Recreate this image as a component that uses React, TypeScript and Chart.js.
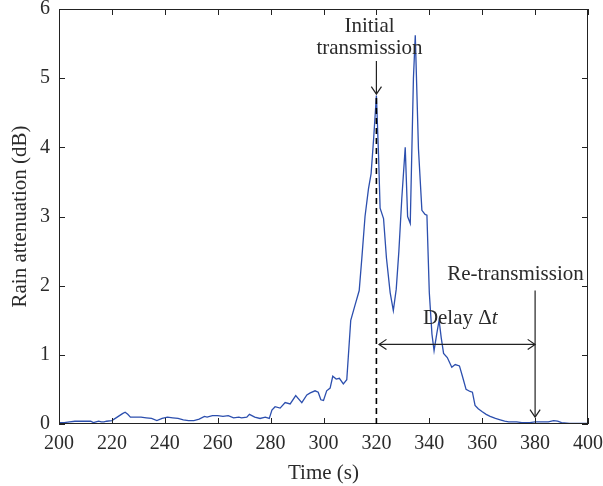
import React, { useEffect, useRef } from "react";
import { Chart, registerables } from "chart.js";

Chart.register(...registerables);

const times = [
  200, 202, 204, 206, 208, 210, 212, 213, 214, 215, 216, 217, 218, 220, 222, 224, 225, 226, 227, 229,
  231, 233, 235, 237, 239, 241, 243, 245, 247, 249, 251, 253, 255, 256, 258, 260, 262, 264, 266, 268,
  269, 271, 272, 274, 276, 278, 279.5, 280.5, 281.7, 283.6, 285.5, 287.4, 289.5, 291.8, 293.7, 295, 296.8,
  298, 299, 300, 301.2, 302.5, 303.5, 304.8, 306, 307.5, 308.8, 310.3, 312, 313.5, 314.5, 315.7, 317,
  318, 319, 320, 320.8, 321.4, 322.7, 323.8, 325.2, 326.4, 327.5, 328.5, 329.6, 330.9, 331.8, 332.8,
  334, 334.7, 335.9, 337.2, 338.4, 339.1, 340, 341, 341.8, 342.8, 343.7, 344.5, 345.4, 346.8, 348.5,
  349.8, 351.4, 352.6, 353.9, 355.4, 356.3, 357.3, 358.5, 359.9, 361.5, 363, 365, 366.8, 368.5, 370,
  373, 375, 378, 380, 382, 385, 387, 388.5, 390, 393, 396, 400,
];

const attenuation = [
  0.02, 0.02, 0.03, 0.04, 0.04, 0.04, 0.04, 0.02, 0.03, 0.04, 0.03, 0.03, 0.04, 0.05, 0.1, 0.15, 0.17, 0.14, 0.1, 0.1,
  0.1, 0.09, 0.08, 0.05, 0.08, 0.1, 0.09, 0.08, 0.06, 0.05, 0.05, 0.07, 0.11, 0.1, 0.12, 0.12, 0.11, 0.12, 0.09, 0.1,
  0.09, 0.1, 0.14, 0.1, 0.08, 0.1, 0.08, 0.2, 0.25, 0.23, 0.31, 0.29, 0.41, 0.31, 0.42, 0.45, 0.48,
  0.46, 0.35, 0.34, 0.48, 0.52, 0.69, 0.65, 0.66, 0.58, 0.64, 1.5, 1.73, 1.93, 2.4, 3.0, 3.4,
  3.62, 4.15, 4.75, 3.9, 3.12, 2.97, 2.4, 1.9, 1.64, 1.95, 2.5, 3.26, 4.0, 3.0, 2.9,
  5.0, 5.62, 3.98, 3.09, 3.03, 3.02, 1.9, 1.3, 1.06, 1.3, 1.5, 1.25, 1.02, 0.96, 0.82,
  0.86, 0.84, 0.68, 0.5, 0.47, 0.46, 0.27, 0.22, 0.18, 0.14, 0.11, 0.08, 0.06, 0.04, 0.03,
  0.03, 0.02, 0.02, 0.03, 0.03, 0.03, 0.05, 0.04, 0.02, 0.01, 0.01, 0.01,
];

const xTickStep = 20;
const yTickStep = 1;
const xRange = [200, 400];
const yRange = [0, 6];

const xTitle = "Time (s)";
const yTitle = "Rain attenuation (dB)";

// annotations (data units)
const initialTime = 320;
const initialDashTop = 4.72;
const initialArrow = [5.25, 4.77];
const initialLabels = ["Initial", "transmission"];
const initialLabelX = 317.4;
const initialLabelY = [5.74, 5.43];
const retransTime = 380;
const retransArrow = [1.93, 0.1];
const retransLabel = "Re-transmission";
const retransLabelPos = [372.6, 2.16];
const delayRange = [321, 380];
const delayY = 1.15;
const delayLabelPos = [351.7, 1.53];

const FONT = "'Liberation Serif', 'Times New Roman', serif";
const TEXT = "#2b2b2b";
const ANN_SIZE = 21;

function arrowHead(ctx: CanvasRenderingContext2D, x: number, y: number, ang: number) {
  const L = 9;
  const spread = 0.6;
  ctx.beginPath();
  ctx.moveTo(x - L * Math.cos(ang - spread), y - L * Math.sin(ang - spread));
  ctx.lineTo(x, y);
  ctx.lineTo(x - L * Math.cos(ang + spread), y - L * Math.sin(ang + spread));
  ctx.stroke();
}

const framePlugin = {
  id: "frame",
  afterDatasetsDraw(chart: any) {
    const { ctx, chartArea: a, scales } = chart;
    const xs = scales.x;
    const ys = scales.y;
    ctx.save();
    ctx.strokeStyle = "#222";
    ctx.lineWidth = 1;
    ctx.strokeRect(a.left + 0.5, a.top + 0.5, a.right - a.left - 1, a.bottom - a.top - 1);
    const tl = 6;
    ctx.beginPath();
    xs.ticks.forEach((t: any) => {
      const px = Math.round(xs.getPixelForValue(t.value)) + 0.5;
      ctx.moveTo(px, a.bottom);
      ctx.lineTo(px, a.bottom - tl);
      ctx.moveTo(px, a.top);
      ctx.lineTo(px, a.top + tl);
    });
    ys.ticks.forEach((t: any) => {
      const py = Math.round(ys.getPixelForValue(t.value)) + 0.5;
      ctx.moveTo(a.left, py);
      ctx.lineTo(a.left + tl, py);
      ctx.moveTo(a.right, py);
      ctx.lineTo(a.right - tl, py);
    });
    ctx.stroke();

    // dashed line
    ctx.strokeStyle = "#000";
    ctx.lineWidth = 1.6;
    ctx.setLineDash([6, 4]);
    const dx = xs.getPixelForValue(initialTime);
    ctx.beginPath();
    ctx.moveTo(dx, ys.getPixelForValue(0));
    ctx.lineTo(dx, ys.getPixelForValue(initialDashTop));
    ctx.stroke();
    ctx.setLineDash([]);

    // arrows
    ctx.lineWidth = 1.2;
    ctx.strokeStyle = "#222";
    const a1t = ys.getPixelForValue(initialArrow[0]);
    const a1b = ys.getPixelForValue(initialArrow[1]);
    ctx.beginPath();
    ctx.moveTo(dx, a1t);
    ctx.lineTo(dx, a1b);
    ctx.stroke();
    arrowHead(ctx, dx, a1b, Math.PI / 2);

    const rx = xs.getPixelForValue(retransTime);
    const r1 = ys.getPixelForValue(retransArrow[0]);
    const r2 = ys.getPixelForValue(retransArrow[1]);
    ctx.beginPath();
    ctx.moveTo(rx, r1);
    ctx.lineTo(rx, r2);
    ctx.stroke();
    arrowHead(ctx, rx, r2, Math.PI / 2);

    const d1 = xs.getPixelForValue(delayRange[0]);
    const d2 = xs.getPixelForValue(delayRange[1]);
    const dy = ys.getPixelForValue(delayY);
    ctx.beginPath();
    ctx.moveTo(d1, dy);
    ctx.lineTo(d2, dy);
    ctx.stroke();
    arrowHead(ctx, d1, dy, Math.PI);
    arrowHead(ctx, d2, dy, 0);

    // texts
    ctx.fillStyle = TEXT;
    ctx.textAlign = "center";
    ctx.textBaseline = "middle";
    ctx.font = `${ANN_SIZE}px ${FONT}`;
    initialLabels.forEach((s, i) => {
      ctx.fillText(s, xs.getPixelForValue(initialLabelX), ys.getPixelForValue(initialLabelY[i]));
    });
    ctx.fillText(retransLabel, xs.getPixelForValue(retransLabelPos[0]), ys.getPixelForValue(retransLabelPos[1]));

    const part1 = "Delay \u0394";
    const part2 = "t";
    ctx.font = `${ANN_SIZE}px ${FONT}`;
    const w1 = ctx.measureText(part1).width;
    ctx.font = `italic ${ANN_SIZE}px ${FONT}`;
    const w2 = ctx.measureText(part2).width;
    const cx = xs.getPixelForValue(delayLabelPos[0]);
    const cy = ys.getPixelForValue(delayLabelPos[1]);
    const start = cx - (w1 + w2) / 2;
    ctx.textAlign = "left";
    ctx.font = `${ANN_SIZE}px ${FONT}`;
    ctx.fillText(part1, start, cy);
    ctx.font = `italic ${ANN_SIZE}px ${FONT}`;
    ctx.fillText(part2, start + w1, cy);
    ctx.restore();
  },
};

export default function App() {
  const ref = useRef<HTMLCanvasElement | null>(null);
  useEffect(() => {
    document.body.style.margin = "0";
    const c = ref.current;
    if (!c) return;
    const chart = new Chart(c, {
      type: "line",
      data: {
        datasets: [
          {
            data: times.map((t, i) => ({ x: t, y: attenuation[i] })),
            borderColor: "#2c4fae",
            borderWidth: 1.3,
            pointRadius: 0,
            tension: 0,
            fill: false,
          },
        ],
      },
      options: {
        animation: false,
        responsive: false,
        devicePixelRatio: 1,
        layout: { padding: { top: 9, right: 15, left: 0, bottom: 0 } },
        plugins: { legend: { display: false }, tooltip: { enabled: false } },
        scales: {
          x: {
            type: "linear",
            min: xRange[0],
            max: xRange[1],
            afterFit: (s: any) => {
              s.height = 62;
              s.paddingLeft = 0;
              s.paddingRight = 0;
            },
            ticks: { stepSize: xTickStep, color: TEXT, font: { family: FONT, size: 20 }, padding: 8, maxRotation: 0 },
            grid: { display: false, drawTicks: false },
            border: { display: false },
            title: { display: true, text: xTitle, color: TEXT, font: { family: FONT, size: 21 }, padding: { top: 4, bottom: 0 } },
          },
          y: {
            type: "linear",
            min: yRange[0],
            max: yRange[1],
            afterFit: (s: any) => {
              s.width = 59;
              s.paddingTop = 0;
              s.paddingBottom = 0;
            },
            ticks: { stepSize: yTickStep, color: TEXT, font: { family: FONT, size: 20 }, padding: 9 },
            grid: { display: false, drawTicks: false },
            border: { display: false },
            title: { display: true, text: yTitle, color: TEXT, font: { family: FONT, size: 21 }, padding: { top: 8, bottom: 0 } },
          },
        },
      },
      plugins: [framePlugin],
    } as any);
    return () => chart.destroy();
  }, []);
  return (
    <div style={{ position: "fixed", left: 0, top: 0, width: 603, height: 486, background: "#fff" }}>
      <canvas ref={ref} width={603} height={486} />
    </div>
  );
}
